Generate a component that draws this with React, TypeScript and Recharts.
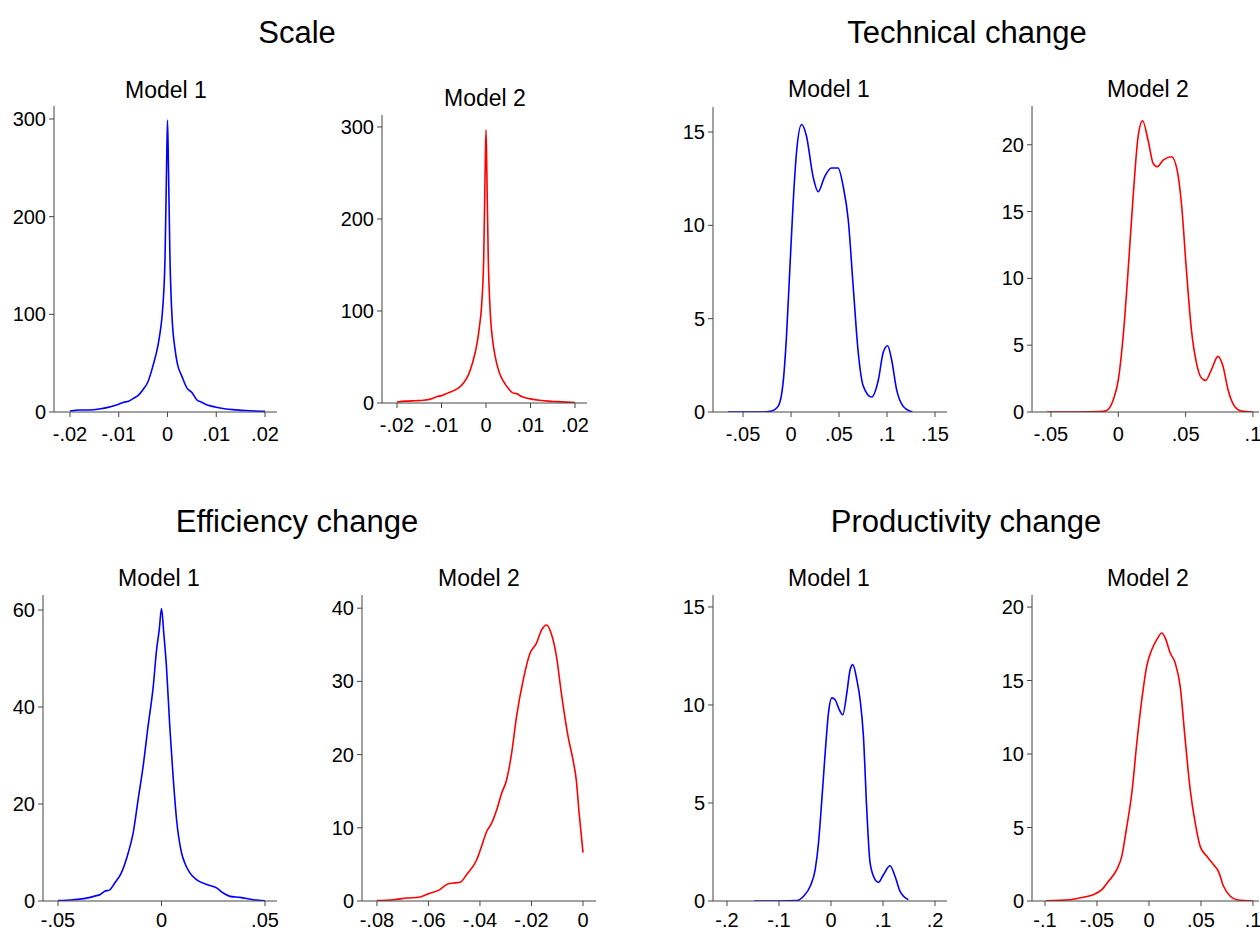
import { LineChart, Line, XAxis, YAxis } from 'recharts';

// Kernel density estimates
const scaleM1X = [-0.02, -0.018, -0.016, -0.014, -0.012, -0.011, -0.01, -0.009, -0.008, -0.007, -0.006, -0.005, -0.004, -0.003, -0.002, -0.0015, -0.001, -0.0005, -0.0002, 0, 0.0002, 0.0005, 0.001, 0.0015, 0.002, 0.003, 0.004, 0.005, 0.006, 0.007, 0.008, 0.009, 0.01, 0.012, 0.014, 0.016, 0.018, 0.02];
const scaleM1Y = [1, 2, 2, 3, 5, 6.5, 8, 10, 11, 14, 17, 23, 31, 47, 67, 82, 105, 159, 248, 299, 250, 159, 91, 66, 50, 36, 24.5, 20, 12.6, 10, 7.5, 6, 4.8, 3, 2.2, 1.5, 1, 0.6];

const scaleM2X = [-0.02, -0.018, -0.016, -0.014, -0.012, -0.011, -0.01, -0.009, -0.008, -0.007, -0.006, -0.005, -0.004, -0.003, -0.002, -0.0015, -0.001, -0.0005, -0.0002, 0, 0.0002, 0.0005, 0.001, 0.0015, 0.002, 0.003, 0.004, 0.005, 0.006, 0.007, 0.008, 0.009, 0.01, 0.012, 0.014, 0.016, 0.018, 0.02];
const scaleM2Y = [1, 2, 2.5, 3, 5, 7, 8, 10, 12, 14, 17, 22, 30, 44, 65, 82, 105, 160, 250, 297, 248, 160, 95, 68, 52, 33, 23, 16, 11, 10, 7, 5.5, 4.5, 3, 2, 1.5, 1, 0.5];

const techM1X = [-0.0657, -0.03, -0.0204, -0.0135, -0.0083, -0.0048, -0.0013, 0.0022, 0.0057, 0.011, 0.016, 0.023, 0.0283, 0.035, 0.042, 0.049, 0.0543, 0.0596, 0.0648, 0.07, 0.0752, 0.0839, 0.0909, 0.0961, 0.1006, 0.1048, 0.11, 0.117, 0.1265];
const techM1Y = [0, 0, 0.05, 0.3, 1.55, 4, 7.6, 11.2, 13.9, 15.4, 14.8, 12.6, 11.8, 12.6, 13.07, 13.07, 12.1, 10.3, 6.7, 3.2, 1.4, 0.8, 1.7, 3.2, 3.55, 2.8, 1.2, 0.3, 0];

const techM2X = [-0.053, -0.03, -0.0137, -0.0087, -0.0038, 0, 0.0036, 0.0073, 0.011, 0.0147, 0.018, 0.0222, 0.0259, 0.0288, 0.0333, 0.0395, 0.0437, 0.0469, 0.0506, 0.0543, 0.058, 0.0617, 0.0649, 0.0691, 0.0741, 0.0778, 0.0815, 0.0864, 0.0914, 0.1];
const techM2Y = [0, 0, 0.03, 0.12, 0.9, 2.4, 5.65, 10.6, 16.1, 20.6, 21.8, 20.3, 18.6, 18.35, 18.85, 19.1, 18.1, 15.6, 10.6, 6.15, 3.7, 2.55, 2.37, 3.16, 4.16, 3.4, 1.67, 0.42, 0.07, 0];

const effM1X = [-0.05, -0.0427, -0.0363, -0.0315, -0.0298, -0.0274, -0.025, -0.0226, -0.0194, -0.0161, -0.0137, -0.0113, -0.0089, -0.0065, -0.004, -0.0024, -0.0011, 0, 0.0011, 0.0024, 0.004, 0.0056, 0.0073, 0.0097, 0.0113, 0.0137, 0.0169, 0.0218, 0.0266, 0.0298, 0.0331, 0.0379, 0.0444, 0.05];
const effM1Y = [0.1, 0.27, 0.6, 1.1, 1.3, 2.0, 2.3, 3.7, 5.8, 9.9, 14, 20.9, 27.7, 36, 44.2, 51.7, 55.9, 60.3, 55.2, 48.3, 36, 25.7, 16.7, 9.9, 7.8, 5.8, 4.4, 3.4, 2.7, 1.65, 0.96, 0.75, 0.27, 0.05];

const effM2X = [-0.08, -0.0735, -0.0684, -0.0632, -0.06, -0.0561, -0.0523, -0.0503, -0.0477, -0.0452, -0.0413, -0.0394, -0.0374, -0.0355, -0.0335, -0.0316, -0.0297, -0.0277, -0.0258, -0.0232, -0.0206, -0.0181, -0.0161, -0.0142, -0.0123, -0.0103, -0.0084, -0.0058, -0.0039, -0.0026, -0.0015, -0.0006, 0];
const effM2Y = [0.05, 0.18, 0.4, 0.55, 1.0, 1.45, 2.36, 2.45, 2.55, 3.6, 5.6, 7.45, 9.5, 10.6, 12.45, 14.7, 16.5, 20.2, 25.2, 30.2, 33.8, 35.2, 37, 37.7, 36.5, 33.4, 28.4, 22.5, 19.3, 16.5, 12, 8.8, 6.6];

const prodM1X = [-0.1475, -0.1, -0.0656, -0.0528, -0.04, -0.0304, -0.024, -0.0176, -0.0112, -0.0048, 0.0016, 0.008, 0.0144, 0.0227, 0.0304, 0.0368, 0.0419, 0.0496, 0.056, 0.0624, 0.0688, 0.0752, 0.0848, 0.0912, 0.1008, 0.1136, 0.1232, 0.1328, 0.1488];
const prodM1Y = [0, 0, 0.02, 0.24, 0.75, 1.6, 2.96, 5.17, 7.55, 9.6, 10.36, 10.27, 9.85, 9.5, 10.6, 11.8, 12.06, 11.3, 10.27, 8.4, 4.66, 1.94, 1.09, 0.95, 1.34, 1.8, 1.26, 0.49, 0.07];

const prodM2X = [-0.099, -0.0759, -0.063, -0.0535, -0.0454, -0.039, -0.031, -0.0262, -0.0213, -0.0165, -0.0117, -0.0069, -0.0021, 0.0027, 0.0075, 0.0124, 0.0156, 0.0204, 0.0252, 0.03, 0.0348, 0.0396, 0.0445, 0.0493, 0.0557, 0.0621, 0.0669, 0.0717, 0.0782, 0.0846, 0.1];
const prodM2Y = [0.02, 0.09, 0.25, 0.43, 0.77, 1.34, 2.13, 3.04, 5.08, 7.35, 10.75, 13.7, 16, 17.1, 17.78, 18.23, 17.9, 16.87, 16.2, 14.6, 11, 7.6, 5.3, 3.7, 3.04, 2.47, 2.0, 1.0, 0.32, 0.09, 0];

const groupTitles = ['Scale', 'Technical change', 'Efficiency change', 'Productivity change'];
const modelNames = ['Model 1', 'Model 2'];

const BLUE = '#0000ff';
const RED = '#ff0000';
const AXIS = '#444';
const FONT = '"Liberation Sans", Arial, Helvetica, sans-serif';

const YW = 60;
const MT = 10;
const MR = 10;
const XH = 40;

const toRows = (xs: number[], ys: number[]) => xs.map((x, i) => ({ x, y: ys[i] }));

const fmt = (v: number) => String(v).replace(/^(-?)0\./, '$1.');

interface PanelProps {
  rows: { x: number; y: number }[];
  color: string;
  left: number;
  right: number;
  top: number;
  bottom: number;
  xDomain: [number, number];
  xTicks: number[];
  yDomain: [number, number];
  yTicks: number[];
  labelGap?: number;
}

function Panel({ rows, color, left, right, top, bottom, xDomain, xTicks, yDomain, yTicks, labelGap = 10 }: PanelProps) {
  const tickStyle = { fill: '#000', fontSize: 20, fontFamily: FONT };
  return (
    <div style={{ position: 'absolute', left: left - YW, top: top - MT }}>
      <LineChart
        width={YW + (right - left) + MR}
        height={MT + (bottom - top) + XH}
        data={rows}
        margin={{ top: MT, right: MR, left: 0, bottom: 0 }}
      >
        <XAxis
          dataKey="x"
          type="number"
          domain={xDomain}
          ticks={xTicks}
          interval={0}
          allowDataOverflow
          height={XH}
          tickFormatter={fmt}
          stroke={AXIS}
          tickSize={5}
          tickMargin={labelGap}
          tick={tickStyle}
        />
        <YAxis
          type="number"
          domain={yDomain}
          ticks={yTicks}
          interval={0}
          allowDataOverflow
          width={YW}
          tickFormatter={fmt}
          stroke={AXIS}
          tickSize={5}
          tickMargin={3}
          tick={tickStyle}
        />
        <Line
          dataKey="y"
          type="monotone"
          stroke={color}
          strokeWidth={1.6}
          dot={false}
          isAnimationActive={false}
        />
      </LineChart>
    </div>
  );
}

export default function App() {
  return (
    <div
      style={{
        position: 'absolute',
        left: 0,
        top: 0,
        width: 1260,
        height: 932,
        overflow: 'hidden',
        background: '#fff',
        fontFamily: FONT,
      }}
    >
      <svg width={1260} height={932} style={{ position: 'absolute', left: 0, top: 0 }}>
        <g fontFamily={FONT} fill="#000" textAnchor="middle">
          <text x={297} y={42.5} fontSize={31}>{groupTitles[0]}</text>
          <text x={967} y={42.5} fontSize={31}>{groupTitles[1]}</text>
          <text x={297} y={531.5} fontSize={31}>{groupTitles[2]}</text>
          <text x={966} y={531.5} fontSize={31}>{groupTitles[3]}</text>
          <text x={166} y={98} fontSize={23}>{modelNames[0]}</text>
          <text x={485} y={106} fontSize={23}>{modelNames[1]}</text>
          <text x={829} y={97} fontSize={23}>{modelNames[0]}</text>
          <text x={1148} y={97} fontSize={23}>{modelNames[1]}</text>
          <text x={159} y={586} fontSize={23}>{modelNames[0]}</text>
          <text x={479} y={586} fontSize={23}>{modelNames[1]}</text>
          <text x={829} y={586} fontSize={23}>{modelNames[0]}</text>
          <text x={1148} y={586} fontSize={23}>{modelNames[1]}</text>
        </g>
      </svg>

      <Panel rows={toRows(scaleM1X, scaleM1Y)} color={BLUE} left={54} right={277} top={106} bottom={412}
        xDomain={[-0.02328, 0.02246]} xTicks={[-0.02, -0.01, 0, 0.01, 0.02]}
        yDomain={[0, 313.3]} yTicks={[0, 100, 200, 300]} />
      <Panel rows={toRows(scaleM2X, scaleM2Y)} color={RED} left={382} right={587} top={115} bottom={403}
        xDomain={[-0.02337, 0.0227]} xTicks={[-0.02, -0.01, 0, 0.01, 0.02]}
        yDomain={[0, 313]} yTicks={[0, 100, 200, 300]} />
      <Panel rows={toRows(techM1X, techM1Y)} color={BLUE} left={713} right={947} top={107} bottom={412}
        xDomain={[-0.0813, 0.1625]} xTicks={[-0.05, 0, 0.05, 0.1, 0.15]}
        yDomain={[0, 16.34]} yTicks={[0, 5, 10, 15]} />
      <Panel rows={toRows(techM2X, techM2Y)} color={RED} left={1032} right={1259} top={106} bottom={412}
        xDomain={[-0.0641, 0.1045]} xTicks={[-0.05, 0, 0.05, 0.1]}
        yDomain={[0, 22.9]} yTicks={[0, 5, 10, 15, 20]} />
      <Panel rows={toRows(effM1X, effM1Y)} color={BLUE} left={43} right={277} top={595} bottom={901}
        xDomain={[-0.05725, 0.0558]} xTicks={[-0.05, 0, 0.05]}
        yDomain={[0, 63.1]} yTicks={[0, 20, 40, 60]} labelGap={7} />
      <Panel rows={toRows(effM2X, effM2Y)} color={RED} left={362} right={596} top={595} bottom={901}
        xDomain={[-0.0858, 0.00505]} xTicks={[-0.08, -0.06, -0.04, -0.02, 0]}
        yDomain={[0, 41.8]} yTicks={[0, 10, 20, 30, 40]} labelGap={7} />
      <Panel rows={toRows(prodM1X, prodM1Y)} color={BLUE} left={713} right={947} top={595} bottom={901}
        xDomain={[-0.2269, 0.2231]} xTicks={[-0.2, -0.1, 0, 0.1, 0.2]}
        yDomain={[0, 15.61]} yTicks={[0, 5, 10, 15]} labelGap={7} />
      <Panel rows={toRows(prodM2X, prodM2Y)} color={RED} left={1032} right={1259} top={595} bottom={901}
        xDomain={[-0.1125, 0.1058]} xTicks={[-0.1, -0.05, 0, 0.05, 0.1]}
        yDomain={[0, 20.82]} yTicks={[0, 5, 10, 15, 20]} labelGap={7} />
    </div>
  );
}
